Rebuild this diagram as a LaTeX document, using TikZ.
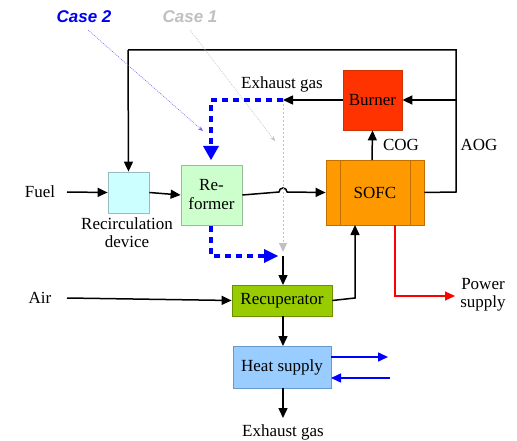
\documentclass[tikz,border=0pt]{standalone}
\usepackage{fontspec}
\setmainfont{Liberation Serif}
\newfontfamily\casefont{Liberation Sans}
\usetikzlibrary{arrows.meta}
\definecolor{recircfill}{HTML}{CCFFFF}
\definecolor{recircdraw}{HTML}{99BBBB}
\definecolor{reffill}{HTML}{CCFFCC}
\definecolor{refdraw}{HTML}{99BB99}
\definecolor{sofcfill}{HTML}{FF9900}
\definecolor{sofcdraw}{HTML}{C07000}
\definecolor{burnfill}{HTML}{FF3300}
\definecolor{burndraw}{HTML}{CC3300}
\definecolor{recfill}{HTML}{99CC00}
\definecolor{recdraw}{HTML}{6A9000}
\definecolor{heatfill}{HTML}{99CCFF}
\definecolor{heatdraw}{HTML}{6699CC}
\definecolor{caseblue}{HTML}{0000EE}
\definecolor{casegray}{HTML}{C0C0C0}
\tikzset{
  box/.style={draw, line width=0.8pt, inner sep=0pt, font=\fontsize{17}{19}\selectfont, align=center},
  lbl/.style={inner sep=0pt, font=\fontsize{17}{19}\selectfont, align=center},
  flow/.style={line width=1.5pt, -{Triangle[length=10pt,width=9pt]}},
  plain/.style={line width=1.5pt},
  bdash/.style={draw=blue, line width=3.5pt, dash pattern=on 6pt off 5pt},
}
\begin{document}
\begin{tikzpicture}[x=1pt,y=-1pt]
\useasboundingbox (0,0) rectangle (517,441);
\fill[white] (0,0) rectangle (517,441);

% boxes
\node[box, fill=recircfill, draw=recircdraw, minimum width=41pt, minimum height=41pt] (recirc) at (128.5,192.5) {};
\node[box, fill=reffill, draw=refdraw, minimum width=61pt, minimum height=60pt] (reformer) at (211.5,195) {Re-\\former};
\node[box, fill=sofcfill, draw=sofcdraw, minimum width=98pt, minimum height=65pt] (sofc) at (375,192.5) {SOFC};
\draw[sofcdraw, line width=0.8pt] (340,160) -- (340,225) (410,160) -- (410,225);
\node[box, fill=burnfill, draw=burndraw, minimum width=59pt, minimum height=60pt] (burner) at (372.5,100) {Burner};
\node[box, fill=recfill, draw=recdraw, minimum width=100pt, minimum height=31pt] (recup) at (282,300.5) {Recuperator};
\node[box, fill=heatfill, draw=heatdraw, minimum width=98pt, minimum height=42pt] (heat) at (282,367) {Heat supply};

% labels
\node[lbl] (fuel) at (40,192) {Fuel};
\node[lbl] (air) at (40,298) {Air};
\node[lbl] (exh1) at (282,84) {Exhaust gas};
\node[lbl] (exh2) at (283,432) {Exhaust gas};
\node[lbl] (cog) at (401,145) {COG};
\node[lbl] (aog) at (479,145) {AOG};
\node[lbl, font=\fontsize{17}{18}\selectfont] (rdlbl) at (127,233) {Recirculation\\device};
\node[lbl, font=\fontsize{17}{18}\selectfont] (power) at (483,295) {Power\\supply};
\node[inner sep=0pt, text=caseblue, font=\casefont\fontsize{17}{19}\selectfont\bfseries\itshape] (case2) at (84,17) {Case 2};
\node[inner sep=0pt, text=casegray, font=\casefont\fontsize{17}{19}\selectfont\bfseries\itshape] (case1) at (190,17) {Case 1};

% coordinates
\coordinate (fuelstart) at (67,192);
\coordinate (airstart) at (67,298);
\coordinate (jtop) at (283,100);
\coordinate (jbot) at (283,256);
\coordinate (tl) at (128,50);
\coordinate (tr) at (456,50);
\coordinate (rr) at (456,192);
\coordinate (rb) at (456,100);
\coordinate (bluecorner) at (211,100);
\coordinate (refbot) at (211,256);
\coordinate (sofcin) at (355,298);
\coordinate (redc) at (395,296);
\coordinate (redend) at (455,296);
\coordinate (h1) at (388,357);
\coordinate (h2) at (390,378);
\coordinate (c2a) at (88,30);
\coordinate (c2b) at (203,131);
\coordinate (c1a) at (190,30);
\coordinate (c1b) at (275,141);

% black flows
\draw[flow] (fuelstart) -- (recirc.west);
\draw[flow] (recirc.east) -- (reformer.west);
\draw[flow] (reformer.east) -- (279,192) arc (180:360:4) -- (sofc.west);
\draw[plain] (sofc.east) -- (rr) -- (tr) -- (tl);
\draw[flow] (tl) -- (recirc.north);
\draw[flow] (rb) -- (burner.east);
\draw[flow] (burner.west) -- (jtop);
\draw[flow] (372,160) -- (burner.south);
\draw[flow] (airstart) -- (recup.west);
\draw[flow] (recup.east) -- (sofcin) -- (355,225);
\draw[flow] (jbot) -- (283,285);
\draw[flow] (283,316) -- (283,346);
\draw[flow] (283,388) -- (283,418);

% red power
\draw[red, line width=1.2pt, -{Triangle[length=10pt,width=9pt]}] (395,225) -- (redc) -- (redend);

% heat supply blue arrows
\draw[blue, line width=1.5pt, -{Triangle[length=10pt,width=9pt]}] (331,357) -- (h1);
\draw[blue, line width=1.5pt, -{Triangle[length=10pt,width=9pt]}] (h2) -- (331,378);

% case 1 gray dotted
\draw[casegray, line width=1pt, dash pattern=on 2pt off 2pt, -{Triangle[length=9pt,width=8pt]}] (jtop) -- (283,252);
\draw[casegray, line width=0.5pt, dash pattern=on 1pt off 1pt, -{Stealth[length=5pt,width=4pt]}] (c1a) -- (c1b);

% case 2 blue dashed
\draw[bdash] (jtop) -- (bluecorner) -- (211,146);
\fill[blue] (203,146) -- (219,146) -- (211,160) -- cycle;
\draw[bdash] (211,226) -- (refbot) -- (266,256);
\fill[blue] (264,249) -- (278,256) -- (264,263) -- cycle;
\draw[caseblue!60, line width=0.5pt, dash pattern=on 1pt off 1pt, -{Stealth[length=5pt,width=4pt]}] (c2a) -- (c2b);
\end{tikzpicture}
\end{document}
